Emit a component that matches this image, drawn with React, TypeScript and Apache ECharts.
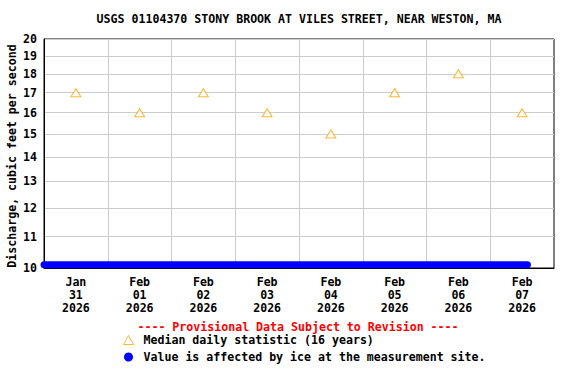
import React, { useEffect, useRef } from "react";
import * as echarts from "echarts";

const TITLE = "USGS 01104370 STONY BROOK AT VILES STREET, NEAR WESTON, MA";
const Y_NAME = "Discharge, cubic feet per second";
const PROVISIONAL = "---- Provisional Data Subject to Revision ----";
const MEDIAN_NAME = "Median daily statistic (16 years)";
const ICE_NAME = "Value is affected by ice at the measurement site.";

const monthNames = ["Jan", "Feb", "Mar", "Apr", "May", "Jun", "Jul", "Aug", "Sep", "Oct", "Nov", "Dec"];
const xRange = ["2026-01-31T00:00:00Z", "2026-02-08T00:00:00Z"];
const dayLabels = [
  "2026-01-31T12:00:00Z", "2026-02-01T12:00:00Z", "2026-02-02T12:00:00Z", "2026-02-03T12:00:00Z",
  "2026-02-04T12:00:00Z", "2026-02-05T12:00:00Z", "2026-02-06T12:00:00Z", "2026-02-07T12:00:00Z",
];
const dayBoundaries = [
  "2026-02-01T00:00:00Z", "2026-02-02T00:00:00Z", "2026-02-03T00:00:00Z", "2026-02-04T00:00:00Z",
  "2026-02-05T00:00:00Z", "2026-02-06T00:00:00Z", "2026-02-07T00:00:00Z",
];
const medianValues = [17, 16, 17, 16, 15, 17, 18, 16];
const icePeriod = ["2026-01-31T00:00:00Z", "2026-02-07T14:00:00Z"];
const icePlotValue = 10.1;
const yTicks = [10, 11, 12, 13, 14, 15, 16, 17, 18, 19, 20];
const yRange = [10, 20];

const FONT = "DejaVu Sans Mono";
const t = (s: string) => Date.parse(s);
const lg = (v: number) => Math.log10(v);
const pad = (n: number) => (n < 10 ? "0" + n : String(n));

export default function App() {
  const ref = useRef<HTMLDivElement>(null);
  useEffect(() => {
    document.body.style.margin = "0";
    const chart = echarts.init(ref.current!, null, { renderer: "svg" });
    const textBase = { fontFamily: FONT, fontWeight: "bold" as const, fontSize: 11.6, color: "#000" };
    chart.setOption({
      animation: false,
      backgroundColor: "#fff",
      grid: {
        left: 44, top: 39, right: 22, bottom: 116, show: true, borderColor: "#000", borderWidth: 1,
        containLabel: false, outerBoundsMode: "none",
      },
      graphic: [
        {
          type: "text", x: 299, y: 19,
          style: { text: TITLE, font: `bold 11.6px "${FONT}"`, fill: "#000", textAlign: "center", textVerticalAlign: "middle" },
        },
        {
          type: "text", x: 12, y: 156, rotation: Math.PI / 2,
          style: { text: Y_NAME, font: `bold 11.6px "${FONT}"`, fill: "#000", textAlign: "center", textVerticalAlign: "middle" },
        },
        {
          type: "text", x: 298, y: 327,
          style: { text: PROVISIONAL, font: `bold 11.6px "${FONT}"`, fill: "#f00", textAlign: "center", textVerticalAlign: "middle" },
        },
      ],
      legend: {
        orient: "vertical", left: 123, top: 334, itemWidth: 10, itemHeight: 9, itemGap: 5, padding: 0,
        textStyle: { ...textBase, padding: [0, 0, 0, 5] },
        data: [
          { name: MEDIAN_NAME, icon: "triangle", itemStyle: { color: "#fff", borderColor: "#FFA500", borderWidth: 1 } },
          { name: ICE_NAME, icon: "circle", itemStyle: { color: "#0000FF" } },
        ],
      },
      xAxis: {
        type: "value",
        min: t(xRange[0]),
        max: t(xRange[1]),
        axisLine: { show: true, lineStyle: { color: "#000", width: 1 } },
        axisTick: { show: false, customValues: dayBoundaries.map(t) },
        splitLine: { show: true, lineStyle: { color: "#cccccc", width: 1 } },
        axisLabel: {
          ...textBase,
          customValues: dayLabels.map(t),
          lineHeight: 13,
          margin: 7,
          formatter: (v: number) => {
            const d = new Date(v);
            return `${monthNames[d.getUTCMonth()]}\n${pad(d.getUTCDate())}\n${d.getUTCFullYear()}`;
          },
        },
      },
      yAxis: {
        type: "value",
        min: lg(yRange[0]),
        max: lg(yRange[1]),
        axisLine: { show: true, lineStyle: { color: "#000", width: 1 } },
        axisTick: { show: false, customValues: yTicks.map(lg) },
        splitLine: { show: true, lineStyle: { color: "#cccccc", width: 1 } },
        axisLabel: {
          ...textBase,
          customValues: yTicks.map(lg),
          margin: 7,
          formatter: (v: number) => String(Math.round(Math.pow(10, v))),
        },
      },
      series: [
        {
          name: ICE_NAME,
          type: "line",
          clip: false,
          symbol: "none",
          lineStyle: { color: "#0000FF", width: 7, cap: "round" },
          itemStyle: { color: "#0000FF" },
          data: icePeriod.map((s) => [t(s), lg(icePlotValue)]),
          z: 3,
        },
        {
          name: MEDIAN_NAME,
          type: "scatter",
          symbol: "triangle",
          symbolSize: [10, 8],
          itemStyle: { color: "#fff", borderColor: "#FFA500", borderWidth: 1 },
          data: dayLabels.map((s, i) => [t(s), lg(medianValues[i])]),
          z: 4,
        },
      ],
    });
    return () => chart.dispose();
  }, []);
  return <div ref={ref} style={{ width: 576, height: 384 }} />;
}
